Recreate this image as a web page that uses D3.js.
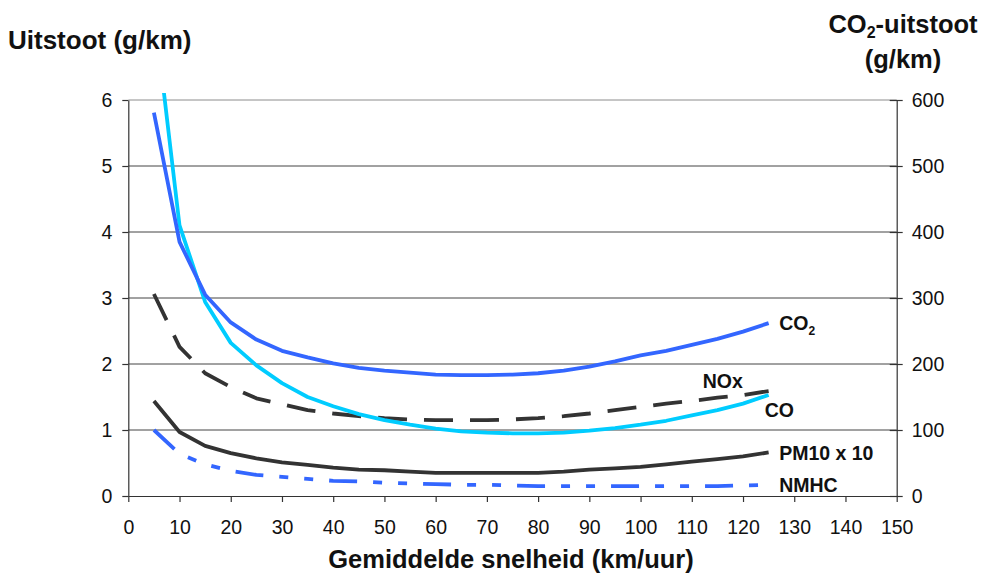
<!DOCTYPE html>
<html>
<head>
<meta charset="utf-8">
<script src="https://cdn.jsdelivr.net/npm/d3@7"></script>
<style>
  html, body { margin: 0; padding: 0; background: #fff; }
  svg { display: block; font-family: "Liberation Sans", Arial, sans-serif; }
</style>
</head>
<body>
<div id="chart"></div>
<script>
// Speeds (km/uur)
const SPEEDS = [5, 10, 15, 20, 25, 30, 35, 40, 45, 50, 55, 60, 65, 70, 75, 80, 85, 90, 95, 100, 105, 110, 115, 120, 125];

// CO2 in g/km (right axis)
const CO2 = [581, 385, 305, 263, 237, 220, 210, 201, 194, 190, 187, 184, 183, 183, 184, 186, 190, 196, 204, 213, 220, 229, 238, 249, 262];
// other emissions in g/km (left axis)
const CO = [7.4, 4.1, 2.94, 2.32, 1.98, 1.71, 1.5, 1.36, 1.24, 1.15, 1.08, 1.02, 0.98, 0.96, 0.95, 0.95, 0.96, 0.99, 1.03, 1.08, 1.14, 1.22, 1.3, 1.4, 1.53];
const NOX = [3.06, 2.26, 1.86, 1.65, 1.48, 1.39, 1.3, 1.25, 1.21, 1.18, 1.16, 1.15, 1.15, 1.15, 1.16, 1.18, 1.21, 1.25, 1.3, 1.35, 1.4, 1.44, 1.49, 1.53, 1.59];
const PM10X10 = [1.44, 0.97, 0.76, 0.65, 0.57, 0.51, 0.47, 0.43, 0.4, 0.39, 0.37, 0.35, 0.35, 0.35, 0.35, 0.35, 0.37, 0.4, 0.42, 0.44, 0.48, 0.52, 0.56, 0.6, 0.66];
const NMHC = [1.0, 0.64, 0.48, 0.38, 0.32, 0.29, 0.26, 0.23, 0.22, 0.2, 0.19, 0.18, 0.17, 0.17, 0.16, 0.15, 0.15, 0.15, 0.15, 0.15, 0.15, 0.15, 0.15, 0.16, 0.17];

const X_TICKS = [0, 10, 20, 30, 40, 50, 60, 70, 80, 90, 100, 110, 120, 130, 140, 150];
const LEFT_TICKS = [0, 1, 2, 3, 4, 5, 6];
const RIGHT_TICKS = [0, 100, 200, 300, 400, 500, 600];

const FONT = '"Liberation Sans", Arial, sans-serif';
const width = 983;
const height = 579;
const margin = { top: 100, right: 86.3, bottom: 83, left: 128.3 };
const plotRight = width - margin.right;
const plotBottom = height - margin.bottom;

const svg = d3.select('#chart').append('svg').attr('width', width).attr('height', height);

// scales in page coordinates
const x = d3.scaleLinear().domain([0, 150]).range([margin.left, plotRight]);
const y = d3.scaleLinear().domain([0, 6]).range([plotBottom, margin.top]);
const y2 = d3.scaleLinear().domain([0, 600]).range([plotBottom, margin.top]);

// gridlines
svg.append('g')
  .selectAll('line')
  .data(LEFT_TICKS.slice(1))
  .join('line')
  .attr('x1', margin.left)
  .attr('x2', plotRight)
  .attr('y1', d => y(d))
  .attr('y2', d => y(d))
  .attr('stroke', d => d === 6 ? '#8c8c8c' : '#444')
  .attr('stroke-width', 1);

// axes
const xAxis = svg.append('g')
  .attr('transform', `translate(0,${plotBottom})`)
  .call(d3.axisBottom(x).tickValues(X_TICKS).tickFormat(d3.format('d')).tickSize(6).tickPadding(18).tickSizeOuter(0));

const yAxis = svg.append('g')
  .attr('transform', `translate(${margin.left},0)`)
  .call(d3.axisLeft(y).tickValues(LEFT_TICKS).tickFormat(d3.format('d')).tickSize(6).tickPadding(10).tickSizeOuter(0));

const yAxis2 = svg.append('g')
  .attr('transform', `translate(${plotRight},0)`)
  .call(d3.axisRight(y2).tickValues(RIGHT_TICKS).tickFormat(d3.format('d')).tickSize(6).tickPadding(9).tickSizeOuter(0));

// right axis ticks cross the axis line
yAxis2.selectAll('.tick line').attr('x1', -7);

[xAxis, yAxis, yAxis2].forEach(ax => {
  ax.attr('font-size', 19.5).attr('font-family', FONT);
  ax.select('.domain').attr('stroke', '#333').attr('stroke-width', 1.2);
  ax.selectAll('.tick line').attr('stroke', '#333').attr('stroke-width', 1.2);
  ax.selectAll('text').attr('fill', '#111');
});

// clip lines slightly above plot top (like the original)
svg.append('defs').append('clipPath').attr('id', 'plotClip')
  .append('rect')
  .attr('x', margin.left)
  .attr('y', margin.top - 7)
  .attr('width', plotRight - margin.left)
  .attr('height', plotBottom - margin.top + 7);

const lines = svg.append('g').attr('clip-path', 'url(#plotClip)');

const lineLeft = d3.line().x((d, i) => x(SPEEDS[i])).y(d => y(d));
const lineRight = d3.line().x((d, i) => x(SPEEDS[i])).y(d => y2(d));

const SERIES = [
  { data: NMHC, gen: lineLeft, color: '#3366ff', dash: '28,16,9,16,9,16' },
  { data: PM10X10, gen: lineLeft, color: '#333333', dash: null },
  { data: NOX, gen: lineLeft, color: '#333333', dash: '29,17' },
  { data: CO, gen: lineLeft, color: '#00ccff', dash: null },
  { data: CO2, gen: lineRight, color: '#3366ff', dash: null }
];

SERIES.forEach(s => {
  lines.append('path')
    .datum(s.data)
    .attr('d', s.gen)
    .attr('fill', 'none')
    .attr('stroke', s.color)
    .attr('stroke-width', 3.8)
    .attr('stroke-linejoin', 'round')
    .attr('stroke-dasharray', s.dash);
});

// series labels at line ends
const last = SPEEDS.length - 1;
const endX = x(SPEEDS[last]);

function label(txt, dx, yPos, sub) {
  const t = svg.append('text')
    .attr('x', endX + dx)
    .attr('y', yPos)
    .attr('font-size', 19.5)
    .attr('font-weight', 'bold')
    .attr('fill', '#111')
    .text(txt);
  if (sub) {
    t.append('tspan').attr('font-size', 12).attr('dy', 5).text(sub);
  }
}

label('CO', 10.5, y2(CO2[last]) + 6.5, '2');
label('NOx', -66, y(NOX[last]) - 3, null);
label('CO', -4, y(CO[last]) + 22, null);
label('PM10 x 10', 10.5, y(PM10X10[last]) + 8, null);
label('NMHC', 10.5, y(NMHC[last]) + 7.5, null);

// axis titles
svg.append('text')
  .attr('x', 8)
  .attr('y', 49)
  .attr('font-size', 26)
  .attr('font-weight', 'bold')
  .attr('fill', '#111')
  .text('Uitstoot (g/km)');

const rt = svg.append('text')
  .attr('x', 903)
  .attr('y', 33)
  .attr('text-anchor', 'middle')
  .attr('font-size', 25.5)
  .attr('font-weight', 'bold')
  .attr('fill', '#111')
  .text('CO');
rt.append('tspan').attr('font-size', 16).attr('dy', 5).text('2');
rt.append('tspan').attr('dy', -5).text('-uitstoot');

svg.append('text')
  .attr('x', 903)
  .attr('y', 68)
  .attr('text-anchor', 'middle')
  .attr('font-size', 25.5)
  .attr('font-weight', 'bold')
  .attr('fill', '#111')
  .text('(g/km)');

svg.append('text')
  .attr('x', 511)
  .attr('y', 568)
  .attr('text-anchor', 'middle')
  .attr('font-size', 25.5)
  .attr('font-weight', 'bold')
  .attr('fill', '#111')
  .text('Gemiddelde snelheid (km/uur)');
</script>
</body>
</html>
